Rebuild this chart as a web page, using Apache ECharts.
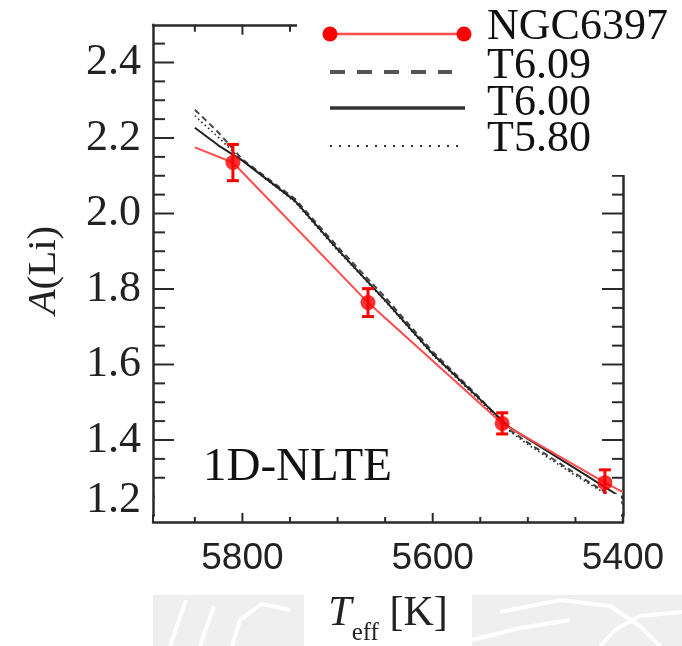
<!DOCTYPE html>
<html>
<head>
<meta charset="utf-8">
<script src="https://cdn.jsdelivr.net/npm/echarts@6/dist/echarts.min.js"></script>
<style>
  html, body { margin: 0; padding: 0; background: #fff; }
  #chart { width: 682px; height: 646px; }
</style>
</head>
<body>
<div id="chart"></div>
<script>
// Lithium abundance versus effective temperature, NGC 6397 and models.

// Observed cluster points with their error bars
const teffObs = [5810, 5668, 5527, 5419];
const aliObs = [2.135, 1.764, 1.444, 1.287];
const aliErr = [0.048, 0.037, 0.028, 0.034];

// Observed trend line (runs past the first and last point)
const ngcLineT = [5850, 5810, 5668, 5527, 5419, 5400];
const ngcLineA = [2.175, 2.135, 1.764, 1.444, 1.287, 1.262];

// Model tracks
const teffModel = [5850, 5825, 5800, 5745, 5700, 5650, 5600, 5550, 5520, 5500, 5450, 5400];
const aliT609 = [2.275, 2.214, 2.143, 2.039, 1.912, 1.778, 1.634, 1.510, 1.428, 1.393, 1.311, 1.232];
const aliT600 = [2.227, 2.180, 2.140, 2.034, 1.905, 1.770, 1.628, 1.507, 1.435, 1.403, 1.324, 1.245];
const aliT580 = [2.259, 2.201, 2.140, 2.031, 1.902, 1.768, 1.625, 1.503, 1.425, 1.388, 1.306, 1.230];

// Axis ranges and tick positions
const xMin = 5400, xMax = 5894, xMajorStep = 200;
const yMin = 1.2, yMax = 2.5, yMajorStep = 0.2;
const xMajorTicks = [5400, 5600, 5800];
const xMinorTicks = [5450, 5500, 5550, 5650, 5700, 5750, 5850];
const yMajorTicks = [1.2, 1.4, 1.6, 1.8, 2.0, 2.2, 2.4];
const yMinorTicks = [1.25, 1.3, 1.35, 1.45, 1.5, 1.55, 1.65, 1.7, 1.75, 1.85, 1.9, 1.95,
                     2.05, 2.1, 2.15, 2.25, 2.3, 2.35, 2.45];

const legendNames = ['NGC6397', 'T6.09', 'T6.00', 'T5.80'];
const labelText = '1D-NLTE';

const AXIS = '#2a2a2a';
const RED = '#ff0000';
const RED_LINE = '#ff4d4d';
const SERIF = '"Liberation Serif", "DejaVu Serif", serif';
const SANS = '"Liberation Sans", Arial, sans-serif';

const zip = (xs, ys) => xs.map((x, i) => [x, ys[i]]);
const onStep = (v, step, base) => Math.abs(Math.round((v - base) / step) * step - (v - base)) < 1e-6;

// plot frame: value 1.2 sits at y = 515.5, the bottom rule 6.5 px lower
const gridTop = 24.75, gridBottomPx = 515.5, bottomRuleOffset = 6.5;

const chart = echarts.init(document.getElementById('chart'));

const legendX0 = 330, legendX1 = 465, legendTextX = 487;
const legendRows = [27, 66, 103, 139];

const baseGraphics = [
  // side rules carried down to the bottom rule
  { type: 'line', z: 20, shape: { x1: 153, y1: gridBottomPx - 1, x2: 153, y2: 522 }, style: { stroke: AXIS, lineWidth: 2 } },
  { type: 'line', z: 20, shape: { x1: 623, y1: gridBottomPx - 1, x2: 623, y2: 522 }, style: { stroke: AXIS, lineWidth: 2.5 } },
  // blank strip along the bottom of the frame
  { type: 'rect', z: 10, shape: { x: 155, y: 494, width: 466, height: 26 }, style: { fill: '#fff' } },
  // blank panel behind the key
  { type: 'rect', z: 10, shape: { x: 297, y: 0, width: 385, height: 175 }, style: { fill: '#fff' } },
  // faint emblem below the frame
  { type: 'rect', z: 1, shape: { x: 153, y: 595, width: 151, height: 51 }, style: { fill: '#efefef' } },
  { type: 'rect', z: 1, shape: { x: 472, y: 595, width: 210, height: 51 }, style: { fill: '#efefef' } },
  { type: 'polyline', z: 2, shape: { points: [[170, 646], [186, 600]] }, style: { stroke: '#fff', lineWidth: 4, fill: null } },
  { type: 'polyline', z: 2, shape: { points: [[200, 646], [214, 606]] }, style: { stroke: '#fff', lineWidth: 4, fill: null } },
  { type: 'polyline', z: 2, shape: { points: [[232, 646], [240, 620], [262, 604], [290, 610]] }, style: { stroke: '#fff', lineWidth: 4, fill: null } },
  { type: 'polyline', z: 2, shape: { points: [[472, 640], [520, 628], [570, 620]] }, style: { stroke: '#fff', lineWidth: 4, fill: null } },
  { type: 'polyline', z: 2, shape: { points: [[500, 612], [560, 600], [610, 606], [640, 626], [660, 646]] }, style: { stroke: '#fff', lineWidth: 4, fill: null } },
  { type: 'polyline', z: 2, shape: { points: [[600, 646], [615, 630], [640, 616], [682, 612]] }, style: { stroke: '#fff', lineWidth: 4, fill: null } },

  // key
  { type: 'line', z: 60, shape: { x1: legendX0, y1: 34, x2: legendX1 - 1, y2: 34 }, style: { stroke: RED_LINE, lineWidth: 2.5 } },
  { type: 'circle', z: 61, shape: { cx: legendX0, cy: 34, r: 7.5 }, style: { fill: RED } },
  { type: 'circle', z: 61, shape: { cx: legendX1 - 1, cy: 34, r: 7.5 }, style: { fill: RED } },
  { type: 'line', z: 60, shape: { x1: legendX0, y1: 72, x2: 452, y2: 72 }, style: { stroke: '#555', lineWidth: 4, lineDash: [15, 12] } },
  { type: 'line', z: 60, shape: { x1: legendX0, y1: 108, x2: legendX1, y2: 108 }, style: { stroke: '#333', lineWidth: 3.5 } },
  { type: 'line', z: 60, shape: { x1: legendX0, y1: 146, x2: legendX1, y2: 146 }, style: { stroke: '#333', lineWidth: 2, lineDash: [2, 7] } }
].concat(legendNames.map((name, i) => ({
  type: 'text', z: 60, x: legendTextX, y: legendRows[i],
  style: { text: name, fontFamily: SERIF, fontSize: 44, fill: '#111', verticalAlign: 'middle', align: 'left' }
}))).concat([
  {
    type: 'text', z: 60, x: 203, y: 468,
    style: { text: labelText, fontFamily: SERIF, fontSize: 47, fill: '#111', verticalAlign: 'middle', align: 'left' }
  }
]);

const option = {
  backgroundColor: '#ffffff',
  animation: false,
  grid: { left: 153, right: 59, top: gridTop, bottom: 646 - gridBottomPx, containLabel: false, outerBoundsMode: 'none' },
  xAxis: [
    {
      type: 'value', position: 'bottom', min: xMin, max: xMax, interval: xMajorStep, inverse: true,
      offset: bottomRuleOffset, z: 20,
      axisLine: { show: true, onZero: false, lineStyle: { color: AXIS, width: 2.5 } },
      axisTick: { show: false }, splitLine: { show: false },
      axisLabel: {
        show: true, margin: 18, showMaxLabel: false,
        fontFamily: SANS, fontSize: 37, lineHeight: 38, color: '#222',
        formatter: v => (onStep(v, xMajorStep, xMin) ? String(v) : '')
      },
      name: '{t|T}{s|eff} [K]',
      nameLocation: 'middle', nameGap: 56,
      nameTextStyle: {
        fontFamily: SERIF, fontSize: 42, color: '#222', lineHeight: 42,
        rich: {
          t: { fontFamily: SERIF, fontSize: 42, fontStyle: 'italic', lineHeight: 42, color: '#222' },
          s: { fontFamily: SERIF, fontSize: 25, lineHeight: 25, padding: [38, 0, 0, 0], color: '#222' }
        }
      }
    },
    {
      type: 'value', position: 'top', min: xMin, max: xMax, inverse: true,
      axisLine: { show: true, onZero: false, lineStyle: { color: AXIS, width: 2.5 } },
      axisTick: { show: false }, axisLabel: { show: false }, splitLine: { show: false }
    }
  ],
  yAxis: [
    {
      type: 'value', position: 'left', min: yMin, max: yMax, interval: yMajorStep,
      axisLine: { show: true, onZero: false, lineStyle: { color: AXIS, width: 2.5 } },
      axisTick: { show: false }, splitLine: { show: false },
      axisLabel: {
        show: true, margin: 12, showMaxLabel: false,
        fontFamily: SERIF, fontSize: 44, color: '#222',
        formatter: v => {
          if (!onStep(v, yMajorStep, yMin) || v > yMax - 1e-6) return '';
          return (Math.abs(v - yMin) < 1e-9 ? '{lo|' : '{n|') + v.toFixed(1) + '}';
        },
        rich: {
          n: { fontFamily: SERIF, fontSize: 44, lineHeight: 44, color: '#222' },
          lo: { fontFamily: SERIF, fontSize: 44, lineHeight: 44, color: '#222', padding: [0, 0, 30, 0] }
        }
      },
      name: '{i|A}(Li)',
      nameLocation: 'middle', nameGap: 88, nameRotate: 90,
      nameTextStyle: {
        fontFamily: SERIF, fontSize: 41, color: '#222', lineHeight: 41,
        rich: { i: { fontFamily: SERIF, fontSize: 41, fontStyle: 'italic', color: '#222', lineHeight: 41 } }
      }
    },
    {
      type: 'value', position: 'right', min: yMin, max: yMax,
      axisLine: { show: true, onZero: false, lineStyle: { color: AXIS, width: 2.5 } },
      axisTick: { show: false }, axisLabel: { show: false }, splitLine: { show: false }
    }
  ],
  series: [
    {
      name: 'T6.09', type: 'line', data: zip(teffModel, aliT609), showSymbol: false,
      lineStyle: { color: '#444', width: 2, type: [6, 4] }, z: 3
    },
    {
      name: 'T6.00', type: 'line', data: zip(teffModel, aliT600), showSymbol: false,
      lineStyle: { color: '#222', width: 2 }, z: 3
    },
    {
      name: 'T5.80', type: 'line', data: zip(teffModel, aliT580), showSymbol: false,
      lineStyle: { color: '#222', width: 1.6, type: [1.5, 3] }, z: 3
    },
    {
      name: 'NGC6397', type: 'line', data: zip(ngcLineT, ngcLineA), showSymbol: false,
      lineStyle: { color: RED_LINE, width: 2 }, z: 4
    },
    {
      name: 'NGC6397 errors', type: 'custom', z: 5,
      data: teffObs.map((t, i) => [t, aliObs[i], aliErr[i]]),
      renderItem: function (params, api) {
        const t = api.value(0), a = api.value(1), e = api.value(2);
        const top = api.coord([t, a + e]);
        const bot = api.coord([t, a - e]);
        const cap = 6;
        const st = { stroke: RED, lineWidth: 3 };
        return {
          type: 'group',
          children: [
            { type: 'line', shape: { x1: top[0], y1: top[1], x2: bot[0], y2: bot[1] }, style: st },
            { type: 'line', shape: { x1: top[0] - cap, y1: top[1], x2: top[0] + cap, y2: top[1] }, style: st },
            { type: 'line', shape: { x1: bot[0] - cap, y1: bot[1], x2: bot[0] + cap, y2: bot[1] }, style: st }
          ]
        };
      }
    },
    {
      name: 'NGC6397 points', type: 'scatter', z: 6,
      data: zip(teffObs, aliObs), symbol: 'circle', symbolSize: 15,
      itemStyle: { color: RED }
    }
  ],
  graphic: baseGraphics
};

chart.setOption(option);

// Inward frame ticks, placed through the chart's own coordinate conversion.
const finder = { xAxisIndex: 0, yAxisIndex: 0 };
const toPx = (x, y) => chart.convertToPixel(finder, [x, y]);
const tickLine = (x1, y1, x2, y2, z) => ({
  type: 'line', z: z, shape: { x1: x1, y1: y1, x2: x2, y2: y2 }, style: { stroke: AXIS, lineWidth: 2 }
});
const tickGraphics = [];
function addXTicks(values, bottomLen, topLen) {
  values.forEach(v => {
    const pb = toPx(v, yMin), pt = toPx(v, yMax);
    if (!pb || !pt) return;
    const yb = pb[1] + bottomRuleOffset;
    tickGraphics.push(tickLine(pb[0], yb, pb[0], yb - bottomLen, 21));
    tickGraphics.push(tickLine(pt[0], pt[1], pt[0], pt[1] + topLen, 5));
  });
}
function addYTicks(values, leftLen, rightLen) {
  values.forEach(v => {
    const pl = toPx(xMax, v), pr = toPx(xMin, v);
    if (!pl || !pr) return;
    tickGraphics.push(tickLine(pl[0], pl[1], pl[0] + leftLen, pl[1], 5));
    tickGraphics.push(tickLine(pr[0], pr[1], pr[0] - rightLen, pr[1], 5));
  });
}
addXTicks(xMajorTicks, 9, 10);
addXTicks(xMinorTicks, 5, 7);
addYTicks(yMajorTicks, 21, 21);
addYTicks(yMinorTicks, 12, 11);

chart.setOption({ graphic: baseGraphics.concat(tickGraphics) });
</script>
</body>
</html>
